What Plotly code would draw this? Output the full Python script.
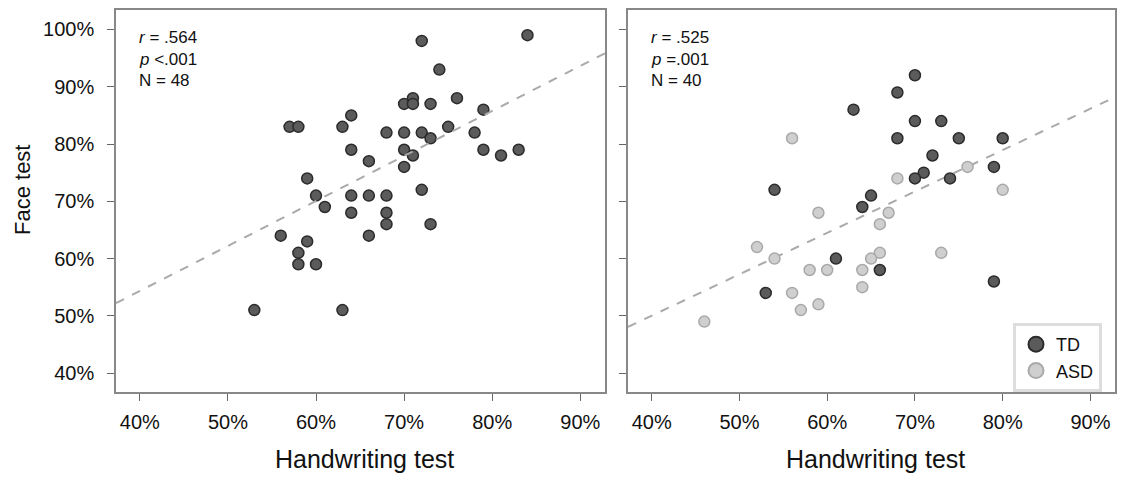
import plotly.graph_objects as go

# ---- Data (percent) ----
all_hand = [72, 84, 74, 70, 71, 71, 73, 76, 79, 64, 57, 58, 63, 75, 68, 70, 72, 73, 78,
            64, 70, 71, 79, 81, 83, 66, 70, 59, 72, 60, 64, 66, 68,
            61, 64, 68, 68, 73, 56, 66, 59, 58, 58, 60, 53, 63]
all_face = [98, 99, 93, 87, 88, 87, 87, 88, 86, 85, 83, 83, 83, 83, 82, 82, 82, 81, 82,
            79, 79, 78, 79, 78, 79, 77, 76, 74, 72, 71, 71, 71, 71,
            69, 68, 68, 66, 66, 64, 64, 63, 61, 59, 59, 51, 51]

td_hand = [70, 68, 63, 70, 73, 68, 75, 80, 72, 79, 71, 70, 74, 54, 65, 64, 61, 66, 79, 53]
td_face = [92, 89, 86, 84, 84, 81, 81, 81, 78, 76, 75, 74, 74, 72, 71, 69, 60, 58, 56, 54]

asd_hand = [56, 68, 76, 80, 59, 67, 66, 52, 54, 66, 65, 73, 58, 60, 64, 56, 64, 59, 57, 46]
asd_face = [81, 74, 76, 72, 68, 68, 66, 62, 60, 61, 60, 61, 58, 58, 58, 54, 55, 52, 51, 49]

# regression lines (slope, intercept)
left_fit = (0.786, 22.9)
right_fit = (0.723, 21.1)

left_stats = ["<i>r</i> = .564", "<i>p</i> <.001", "N = 48"]
right_stats = ["<i>r</i> = .525", "<i>p</i> =.001", "N = 40"]

x_ticks = [40, 50, 60, 70, 80, 90]
x_tick_labels = ["40%", "50%", "60%", "70%", "80%", "90%"]
y_ticks = [40, 50, 60, 70, 80, 90, 100]
y_tick_labels = ["40%", "50%", "60%", "70%", "80%", "90%", "100%"]
x_range = [37.3, 92.8]
y_range = [36.7, 103.4]

W, H = 1128, 479
OFF = 8  # page offset of the plot div (body margin)
FONT = "Liberation Sans, Arial, sans-serif"
TD_FILL, TD_LINE = "#5b5b5b", "#2b2b2b"
ASD_FILL, ASD_LINE = "#cfcfcf", "#a9a9a9"


def px_x(p):
    return (p - OFF) / W


def px_y(p):
    return 1 - (p - OFF) / H


fig = go.Figure()

# left panel
fig.add_trace(go.Scatter(
    x=all_hand, y=all_face, mode="markers", xaxis="x", yaxis="y", showlegend=False,
    marker=dict(size=11, color=TD_FILL, line=dict(color=TD_LINE, width=1.5))))
fig.add_trace(go.Scatter(
    x=x_range, y=[left_fit[0] * v + left_fit[1] for v in x_range], mode="lines",
    xaxis="x", yaxis="y", showlegend=False,
    line=dict(color="#aaaaaa", width=2, dash="dash")))

# right panel
fig.add_trace(go.Scatter(
    x=x_range, y=[right_fit[0] * v + right_fit[1] for v in x_range], mode="lines",
    xaxis="x2", yaxis="y2", showlegend=False,
    line=dict(color="#aaaaaa", width=2, dash="dash")))
fig.add_trace(go.Scatter(
    x=asd_hand, y=asd_face, mode="markers", xaxis="x2", yaxis="y2", showlegend=False,
    marker=dict(size=11, color=ASD_FILL, line=dict(color=ASD_LINE, width=1.5))))
fig.add_trace(go.Scatter(
    x=td_hand, y=td_face, mode="markers", xaxis="x2", yaxis="y2", showlegend=False,
    marker=dict(size=11, color=TD_FILL, line=dict(color=TD_LINE, width=1.5))))

# legend entries
fig.add_trace(go.Scatter(
    x=[None], y=[None], mode="markers", name="TD", xaxis="x2", yaxis="y2",
    marker=dict(size=15, color=TD_FILL, line=dict(color=TD_LINE, width=2))))
fig.add_trace(go.Scatter(
    x=[None], y=[None], mode="markers", name="ASD", xaxis="x2", yaxis="y2",
    marker=dict(size=15, color=ASD_FILL, line=dict(color=ASD_LINE, width=2))))

axis_common = dict(
    showline=True, mirror=True, linecolor="#888888", linewidth=1.5,
    showgrid=False, zeroline=False, ticks="outside", ticklen=7, tickwidth=1.2,
    tickcolor="#666666", tickfont=dict(family=FONT, size=20, color="#111111"),
)

fig.update_layout(
    width=W, height=H,
    margin=dict(l=0, r=0, t=0, b=0),
    paper_bgcolor="white", plot_bgcolor="white",
    font=dict(family=FONT, color="#111111"),
    xaxis=dict(domain=[px_x(116), px_x(605)], range=x_range, tickvals=x_ticks,
               ticktext=x_tick_labels, anchor="y", ticklabelstandoff=4, **axis_common),
    yaxis=dict(domain=[px_y(392), px_y(10)], range=y_range, tickvals=y_ticks,
               ticktext=y_tick_labels, anchor="x", ticklabelstandoff=9, **axis_common),
    xaxis2=dict(domain=[px_x(628), px_x(1115)], range=x_range, tickvals=x_ticks,
                ticktext=x_tick_labels, anchor="y2", ticklabelstandoff=4, **axis_common),
    yaxis2=dict(domain=[px_y(392), px_y(10)], range=y_range, tickvals=y_ticks,
                showticklabels=False, anchor="x2", **axis_common),
    legend=dict(x=px_x(1013), y=px_y(323), xanchor="left", yanchor="top",
                bordercolor="#dddddd", borderwidth=3, bgcolor="white",
                font=dict(family=FONT, size=18, color="#111111"),
                itemwidth=30, tracegroupgap=0),
)

annotations = []
for i, t in enumerate(left_stats):
    annotations.append(dict(text=t, x=px_x(137), y=px_y(38 + 21 * i), xref="paper",
                            yref="paper", xanchor="left", yanchor="middle", showarrow=False,
                            font=dict(family=FONT, size=17, color="#111111")))
for i, t in enumerate(right_stats):
    annotations.append(dict(text=t, x=px_x(649), y=px_y(38 + 21 * i), xref="paper",
                            yref="paper", xanchor="left", yanchor="middle", showarrow=False,
                            font=dict(family=FONT, size=17, color="#111111")))
for cx in [(116 + 605) / 2, (628 + 1115) / 2]:
    annotations.append(dict(text="Handwriting test", x=px_x(cx + 4), y=px_y(459), xref="paper",
                            yref="paper", xanchor="center", yanchor="middle", showarrow=False,
                            font=dict(family=FONT, size=25, color="#111111")))
annotations.append(dict(text="Face test", x=px_x(22), y=px_y(190), xref="paper", yref="paper",
                        xanchor="center", yanchor="middle", showarrow=False, textangle=-90,
                        font=dict(family=FONT, size=22, color="#111111")))
fig.update_layout(annotations=annotations)

fig.write_html("out.html")
